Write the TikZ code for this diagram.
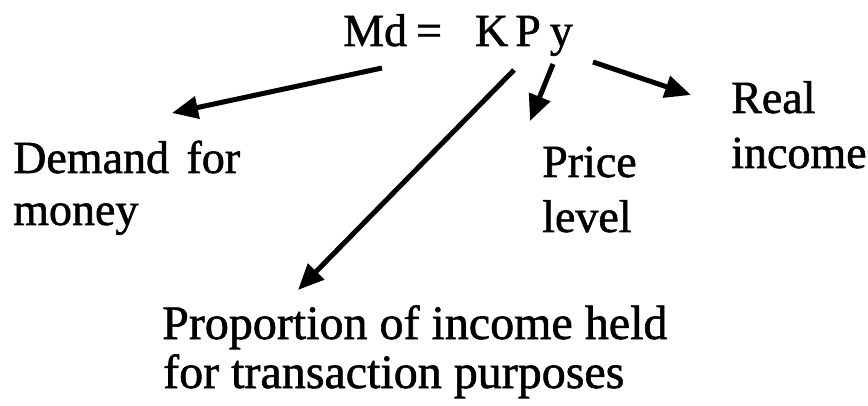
\documentclass[tikz,border=0pt]{standalone}
\usepackage{fontspec}
\setmainfont[FakeBold=1.2]{Liberation Serif}
\usetikzlibrary{arrows.meta}
\tikzset{
  lbl/.style={inner sep=0pt, anchor=base west, font=\fontsize{46}{54}\selectfont},
  biglbl/.style={inner sep=0pt, anchor=base west, font=\fontsize{48}{56}\selectfont},
  arr/.style={line width=5pt, -{Triangle[length=26pt,width=22pt]}}
}
\begin{document}
\begin{tikzpicture}[x=1pt,y=-1pt]
\useasboundingbox[fill=white] (0,0) rectangle (868,406);
% equation
\node[lbl] (eq) at (343,46) {Md\hspace{9pt}=\hspace{33pt}K\hspace{7pt}P\hspace{9pt}y};
% labels
\node[lbl] (dem1) at (13,173) {Demand\hspace{6pt} for};
\node[lbl] (dem2) at (13,225) {money};
\node[lbl] (pri1) at (542,177) {Price};
\node[lbl] (pri2) at (542,232) {level};
\node[lbl] (rea1) at (731,113) {Real};
\node[lbl] (rea2) at (731,168) {income};
\node[biglbl] (pro1) at (162,339) {Proportion of income held};
\node[biglbl] (pro2) at (163,388) {for transaction purposes};
% arrow end points
\coordinate (sMd) at (382,68);
\coordinate (tMd) at (172,113);
\coordinate (sK) at (514,70);
\coordinate (tK) at (298,290);
\coordinate (sP) at (553,64);
\coordinate (tP) at (530,121);
\coordinate (sy) at (593,62);
\coordinate (ty) at (691,95);
\draw[arr] (sMd) -- (tMd);
\draw[arr] (sK) -- (tK);
\draw[arr] (sP) -- (tP);
\draw[arr] (sy) -- (ty);
\end{tikzpicture}
\end{document}
